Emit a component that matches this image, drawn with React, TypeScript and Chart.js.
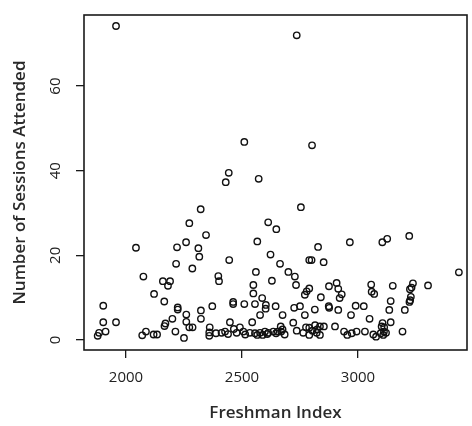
import React, { useEffect, useRef } from "react";
import { Chart, registerables } from "chart.js";

Chart.register(...registerables);

const freshmanIndex = [
  1957, 2736, 2510, 2802, 2443, 2430, 2572, 2754, 2322, 2273,
  2613, 2648, 2345, 3221, 3126, 3105, 2965, 2566, 2259, 2043,
  2220, 2312, 2828, 2316, 2623, 2445, 2790, 2800, 2852, 2216,
  2664, 2286, 2560, 2700, 3435, 2075, 2398, 2728, 2159, 2190,
  2401, 2629, 2181, 2549, 2733, 2908, 3057, 3237, 3302, 2875,
  3150, 2790, 2915, 3231, 3224, 2779, 3059, 2549, 2121, 2771,
  2930, 3070, 2587, 2840, 2921, 3228, 2165, 2462, 3141, 3225,
  3222, 2462, 2510, 2556, 2603, 2602, 2645, 2372, 1902, 2223,
  2223, 2323, 2725, 2750, 2814, 2874, 2876, 2915, 2990, 3025,
  3135, 3202, 2260, 2578, 2675, 2771, 2970, 2200, 2323, 3050,
  2260, 1902, 1957, 2448, 2544, 2721, 3141, 3106, 2170, 2166,
  2273, 2287, 2361, 2491, 2667, 2675, 2776, 2790, 2815, 2836,
  2853, 2824, 2804, 2901, 3102, 3113, 1912, 1884, 1878, 2086,
  2070, 2119, 2134, 2213, 2250, 2359, 2359, 2388, 2412, 2427,
  2440, 2465, 2477, 2506, 2514, 2534, 2556, 2578, 2599, 2613,
  2635, 2566, 2589, 2609, 2654, 2647, 2669, 2684, 2736, 2764,
  2790, 2822, 2836, 2940, 2954, 2973, 2994, 3030, 3066, 3078,
  3112, 3121, 3109, 3098, 3192
];

const sessionsAttended = [
  74.2, 72.0, 46.8, 46.0, 39.5, 37.3, 38.1, 31.4, 30.9, 27.6,
  27.8, 26.2, 24.8, 24.6, 23.9, 23.1, 23.1, 23.3, 23.1, 21.8,
  21.9, 21.7, 22.0, 19.7, 20.2, 18.9, 18.9, 18.9, 18.4, 18.0,
  18.0, 16.9, 16.1, 16.1, 16.0, 15.0, 15.1, 15.0, 13.9, 13.9,
  13.9, 14.0, 12.8, 13.0, 13.0, 13.5, 13.1, 13.4, 12.9, 12.7,
  12.8, 12.2, 12.1, 12.4, 12.0, 11.5, 11.4, 11.0, 10.9, 10.7,
  10.8, 10.9, 9.9, 10.1, 9.9, 10.2, 9.1, 9.0, 9.2, 9.4,
  9.0, 8.5, 8.5, 8.5, 8.3, 7.4, 8.0, 8.0, 8.1, 7.7,
  7.2, 7.0, 7.6, 8.0, 7.2, 8.0, 7.6, 7.1, 8.1, 8.0,
  7.1, 7.1, 6.0, 5.9, 5.9, 5.9, 5.9, 5.0, 5.0, 5.0,
  4.3, 4.2, 4.2, 4.2, 4.2, 4.1, 4.2, 4.0, 3.9, 3.3,
  3.0, 3.0, 3.0, 3.0, 3.2, 2.5, 3.0, 2.9, 3.5, 3.2,
  3.2, 2.5, 2.2, 3.2, 3.2, 3.0, 2.0, 1.7, 1.0, 2.0,
  1.1, 1.3, 1.3, 2.0, 0.5, 1.8, 1.0, 1.6, 1.7, 2.0,
  1.4, 2.6, 1.7, 2.0, 1.3, 1.7, 1.6, 1.7, 2.0, 1.7,
  2.0, 1.2, 1.2, 1.4, 2.0, 1.6, 2.0, 1.3, 2.2, 1.7,
  1.2, 1.7, 1.2, 2.0, 1.2, 1.6, 2.0, 2.0, 1.3, 0.8,
  2.0, 1.7, 1.2, 1.6, 2.0
];

const xTickValues = [2000, 2500, 3000];
const yTickValues = [0, 20, 40, 60];
const xTitle = "Freshman Index";
const yTitle = "Number of Sessions Attended";

const boxPlugin = {
  id: "rBox",
  afterDraw(chart: any) {
    const { ctx, chartArea } = chart;
    const { left, top, right, bottom } = chartArea;
    ctx.save();
    ctx.strokeStyle = "#1a1a1a";
    ctx.lineWidth = 1.6;
    ctx.strokeRect(left, top, right - left, bottom - top);
    ctx.restore();
  },
};

export default function App() {
  const canvasRef = useRef<HTMLCanvasElement | null>(null);

  useEffect(() => {
    const canvas = canvasRef.current;
    if (!canvas) return;
    const points = freshmanIndex.map((x, i) => ({ x, y: sessionsAttended[i] }));
    const tickFont = { family: "'Open Sans', sans-serif", size: 15 };
    const titleFont = { family: "'Open Sans', sans-serif", size: 17, weight: 600 as any };
    const chart = new Chart(canvas, {
      type: "scatter",
      data: {
        datasets: [
          {
            data: points,
            borderColor: "#111111",
            backgroundColor: "rgba(0,0,0,0)",
            borderWidth: 1.4,
            pointRadius: 3.2,
            pointHoverRadius: 3.2,
          },
        ],
      },
      options: {
        responsive: false,
        animation: false,
        events: [],
        layout: { padding: { top: 15, right: 5, left: 0, bottom: 0 } },
        plugins: {
          legend: { display: false },
          tooltip: { enabled: false },
        },
        scales: {
          x: {
            type: "linear",
            min: 1819,
            max: 3470,
            afterBuildTicks: (scale: any) => {
              scale.ticks = xTickValues.map((v) => ({ value: v }));
            },
            afterFit: (scale: any) => {
              scale.height = 76;
              scale.paddingLeft = 0;
              scale.paddingRight = 0;
            },
            border: { display: false },
            grid: {
              drawOnChartArea: false,
              drawTicks: true,
              tickLength: 8,
              color: "#1a1a1a",
              lineWidth: 1.3,
            },
            ticks: {
              color: "#222222",
              font: tickFont,
              padding: 11,
              maxRotation: 0,
              minRotation: 0,
              callback: (v: any) => String(v),
            },
            title: {
              display: true,
              text: xTitle,
              color: "#2a2a2a",
              font: titleFont,
              padding: { top: 0, bottom: 3 },
            },
          },
          y: {
            type: "linear",
            min: -2.36,
            max: 76.8,
            afterBuildTicks: (scale: any) => {
              scale.ticks = yTickValues.map((v) => ({ value: v }));
            },
            afterFit: (scale: any) => {
              scale.width = 84;
              scale.paddingTop = 0;
              scale.paddingBottom = 0;
            },
            border: { display: false },
            grid: {
              drawOnChartArea: false,
              drawTicks: true,
              tickLength: 8,
              color: "#1a1a1a",
              lineWidth: 1.3,
            },
            ticks: {
              color: "#222222",
              font: tickFont,
              padding: 12,
              minRotation: 90,
              maxRotation: 90,
              crossAlign: "center",
              callback: (v: any) => String(v),
            },
            title: {
              display: true,
              text: yTitle,
              color: "#2a2a2a",
              font: titleFont,
              padding: { top: 10, bottom: 0 },
            },
          },
        },
      },
      plugins: [boxPlugin],
    });
    return () => chart.destroy();
  }, []);

  return (
    <div style={{ position: "fixed", left: 0, top: 0, width: 472, height: 426, background: "#ffffff" }}>
      <canvas ref={canvasRef} width={472} height={426} style={{ display: "block" }} />
    </div>
  );
}
